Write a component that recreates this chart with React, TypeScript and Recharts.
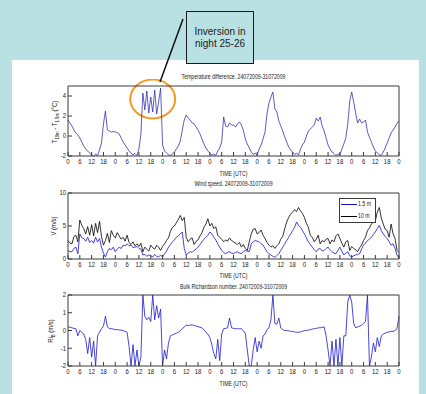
import React from 'react';
import { LineChart, Line, XAxis, YAxis, ReferenceArea } from 'recharts';

// hour ticks, every 6 h over the week
const xTicks = [
  0, 6, 12, 18, 24, 30, 36, 42, 48, 54, 60, 66, 72, 78, 84, 90, 96, 102, 108, 114, 120, 126, 132, 138,
  144, 150, 156, 162, 168,
];
const tempTicks = [-2, 0, 2, 4];
const windTicks = [0, 5, 10];
const riTicks = [-2, -1, 0, 1, 2];

// T10m - T1.5m (degC), one value per hour
const tempDiff = [
  1.6, 1.3, 1.0, 0.6, 0.3, 0.1, -0.2, -0.6, -1.0, -1.3, -1.5, -1.7, -1.9, -2.0, -1.8, -1.95, -1.4, -0.7, 1.2, 2.5, 0.6, 0.5, 0.4, 0.45,
  0.4, 0.35, 0.2, -0.2, -0.6, -0.9, -1.2, -1.5, -1.7, -1.9, -1.75, -1.95, -1.3, 0.2, 4.3, 2.6, 4.5, 2.3, 3.9, 2.4, 4.6, 2.2, 3.4, 4.8,
  -0.9, -1.5, -1.7, -1.85, -1.95, -1.8, -1.6, -1.3, -1.0, -0.5, 0.6, 1.6, 2.1, 1.8, 1.6, 1.3, 1.2, 0.9, 0.6, 0.2, -0.3, -0.8, -1.2, -1.5,
  -1.7, -1.9, -1.8, -1.95, -1.5, -1.2, -0.6, 1.9, 1.0, 0.9, 1.3, 1.1, 1.1, 0.9, 1.2, 1.4, 1.1, 0.6, -0.3, -0.8, -1.2, -1.6, -1.85, -1.7,
  -1.9, -1.3, -0.9, -0.3, 0.4, 2.2, 3.3, 3.9, 4.4, 2.7, 2.4, 1.5, 1.0, 0.5, -0.1, -0.6, -1.1, -1.4, -1.6, -1.85, -1.7, -1.9, -1.3, -0.9,
  -0.6, 0.0, 0.5, 0.7, 0.9, 1.1, 1.8, 1.5, 1.9, 1.0, 0.5, -0.2, -0.9, -1.3, -1.6, -1.75, -1.95, -1.8, -1.9, -1.3, -0.8, -0.2, 1.2, 3.5,
  4.4, 3.4, 2.3, 1.3, 1.7, 1.3, 1.4, 1.6, 0.4, -0.1, -0.6, -1.1, -1.5, -1.7, -1.85, -1.95, -1.6, -1.2, -0.7, -0.2, 0.3, 0.6, 0.9, 1.3,
  1.5,
];

// wind speed at 10 m (m/s)
const wind10 = [
  2.8, 2.4, 2.3, 3.4, 3.6, 2.6, 5.9, 5.1, 4.6, 3.8, 4.9, 3.6, 5.2, 3.5, 5.4, 4.0, 5.7, 3.4, 2.1, 2.8, 3.9, 2.5, 4.3, 3.6,
  3.2, 4.0, 3.5, 3.0, 3.3, 2.7, 3.6, 2.5, 2.2, 2.6, 2.0, 2.3, 1.9, 2.4, 1.1, 1.8, 1.5, 1.2, 2.1, 1.7, 1.5, 2.1, 1.8, 1.3,
  1.9, 2.3, 2.8, 3.2, 4.2, 4.8, 5.0, 5.5, 6.0, 6.6, 5.8, 6.3, 3.3, 2.6, 3.0, 3.2, 2.2, 2.7, 2.9, 3.5, 4.0, 4.8, 5.3, 6.1,
  5.0, 5.4, 4.6, 4.9, 3.6, 3.3, 3.0, 2.6, 2.9, 2.7, 3.2, 2.8, 2.6, 2.4, 2.2, 2.5, 1.8, 2.2, 1.6, 1.3, 2.6, 3.8, 4.5, 4.6,
  3.8, 4.0, 4.4, 3.6, 3.1, 2.5, 2.1, 1.8, 2.0, 1.6, 2.0, 2.3, 3.0, 3.4, 4.6, 5.6, 6.3, 6.8, 7.1, 7.5, 7.2, 7.8, 7.3, 6.9,
  6.3, 5.4, 4.8, 3.6, 3.3, 2.6, 3.0, 3.6, 2.3, 2.8, 2.6, 3.0, 3.1, 2.3, 2.9, 2.6, 3.5, 3.8, 3.1, 2.4, 1.8, 2.6, 2.8, 1.3,
  1.9, 1.6, 1.4, 1.1, 1.7, 2.1, 2.8, 3.3, 4.3, 4.7, 5.3, 5.6, 5.8, 7.1, 7.8, 6.2, 5.3, 4.5, 4.3, 3.3, 5.3, 3.8, 3.1, 1.3,
  1.0,
];

// wind speed at 1.5 m (m/s)
const wind15 = [
  1.3, 1.1, 1.1, 1.6, 1.8, 0.8, 3.8, 3.2, 3.1, 2.7, 3.3, 2.5, 2.8, 2.4, 3.3, 2.6, 3.1, 1.8, 0.9, 0.3, 1.1, 1.6, 1.4, 1.8,
  1.1, 1.5, 1.8, 1.6, 2.1, 2.0, 2.3, 2.0, 2.1, 1.7, 1.8, 1.9, 1.6, 1.5, 0.6, 0.7, 0.4, 0.6, 0.5, 0.3, 0.7, 0.4, 0.3, 0.6,
  0.3, 0.8, 1.2, 1.8, 2.2, 2.6, 2.9, 3.3, 3.5, 3.8, 4.1, 1.6, 0.6, 0.9, 1.1, 1.0, 1.3, 1.5, 1.8, 2.2, 2.6, 3.0, 3.3, 3.6,
  4.1, 3.8, 3.3, 2.9, 2.3, 1.8, 1.3, 1.0, 0.8, 1.0, 1.1, 0.9, 0.8, 1.0, 1.1, 0.9, 0.8, 1.1, 1.3, 1.2, 1.1, 2.3, 2.6, 2.8,
  2.7, 2.6, 2.3, 2.1, 1.6, 1.1, 0.8, 0.6, 0.4, 0.25, 0.5, 0.8, 1.3, 1.8, 2.3, 2.8, 3.3, 3.8, 4.3, 4.8, 5.6, 5.1, 4.8, 4.3,
  3.8, 3.2, 2.6, 2.2, 1.8, 1.4, 1.1, 1.5, 1.6, 1.2, 1.3, 1.6, 1.8, 1.4, 1.1, 0.9, 0.8, 1.3, 1.8, 1.2, 0.6, 0.9, 1.1, 0.5,
  0.3, 0.5, 0.6, 0.7, 0.8, 1.5, 2.1, 2.4, 2.8, 3.0, 3.3, 3.7, 4.1, 4.6, 5.1, 4.3, 3.8, 3.4, 3.1, 2.6, 2.1, 2.3, 1.6, 0.6,
  0.1,
];

// bulk Richardson number
const richardson = [
  0.2, 0.18, 0.15, 0.12, 0.1, -0.3, 0.0, -0.1, -0.2, -0.5, -1.3, -0.4, -1.5, -0.6, -2.0, -0.3, -0.1, 0.1, 0.25, 0.8, 0.2, 0.12, 0.1, 0.08,
  0.05, 0.05, 0.03, 0.02, 0.0, -0.05, -0.1, -0.9, -2.0, -0.8, -2.0, -1.1, -2.0, -1.5, 2.0, 0.8, 0.6, 0.75, 0.5, 2.0, 0.6, 1.4, 0.7, 1.2,
  -2.0, -1.1, -1.6, -0.7, -0.3, -0.25, -0.2, -0.15, -0.1, 0.0, 0.1, 0.2, 0.3, 0.28, 0.3, 0.32, 0.28, 0.25, 0.22, 0.18, 0.15, 0.05, -0.1, -0.2,
  -0.4, -0.8, -1.3, -1.6, -0.5, -1.7, -0.2, 0.1, 0.12, 0.15, 0.7, 0.15, 0.12, 0.1, 0.1, 0.1, 0.1, 0.0, -0.15, -1.1, -2.0, -2.0, -1.1, -0.4,
  -1.2, -0.6, -1.0, -0.3, -0.2, 0.05, 0.15, 0.6, 2.0, 0.4, 0.35, 0.7, 0.15, 0.05, 0.0, 0.0, -0.02, -0.05, -0.05, -0.08, -0.1, -0.1, -0.08, -0.05,
  0.0, 0.0, 0.03, 0.05, 0.08, 0.1, 0.12, 0.15, 0.15, 0.18, 0.2, -0.3, -1.1, -2.0, -0.6, -2.0, -0.5, -2.0, -0.4, -2.0, -0.3, -0.3, 1.6, 2.0,
  1.6, 0.4, 0.15, 0.2, 0.25, 0.3, 0.4, 0.5, 2.0, -2.0, -1.5, -0.7, -1.2, -0.4, -0.9, -0.3, -0.2, -0.15, -0.1, -0.08, -0.05, -0.05, 0.0, 0.1,
  0.8,
];

// highlighted inversion night (hours, degC)
const inversionSpan = { h1: 31.6, h2: 54.4, v1: 1.75, v2: 5.65 };

const tempData = tempDiff.map((v, i) => ({ h: i, v }));
const windData = wind10.map((v, i) => ({ h: i, w10: v, w15: wind15[i] }));
const riData = richardson.map((v, i) => ({ h: i, v }));

const FONT = '"Liberation Sans", Arial, sans-serif';
const AXIS = '#3a3a3a';
const BG = '#b9e0e2';
const SQUEEZE = 0.74;

const fmtHour = (h: number) => String(h % 24);

// narrow MATLAB-like tick text
function XTick({ x, y, payload }: any) {
  return (
    <g transform={`translate(${x},${y}) scale(0.85,1)`}>
      <text textAnchor="middle" dy="0.71em" fontSize={7} fill="#222" fontFamily={FONT}>
        {fmtHour(payload.value)}
      </text>
    </g>
  );
}

function YTick({ x, y, payload }: any) {
  return (
    <g transform={`translate(${x},${y}) scale(0.85,1)`}>
      <text textAnchor="end" dy="0.355em" fontSize={7} fill="#222" fontFamily={FONT}>
        {payload.value}
      </text>
    </g>
  );
}

function axes(yDomain: number[], yTicks: number[]) {
  return [
    <XAxis
      key="xb"
      xAxisId="b"
      type="number"
      dataKey="h"
      domain={[0, 168]}
      ticks={xTicks}
      interval={0}
      tickSize={-4}
      tickMargin={7}
      height={20}
      stroke={AXIS}
      tick={<XTick />}
    />,
    <XAxis
      key="xt"
      xAxisId="t"
      orientation="top"
      type="number"
      dataKey="h"
      domain={[0, 168]}
      ticks={xTicks}
      interval={0}
      tick={false}
      tickSize={-4}
      height={1}
      stroke={AXIS}
    />,
    <YAxis
      key="yl"
      yAxisId="l"
      type="number"
      domain={yDomain}
      ticks={yTicks}
      interval={0}
      allowDataOverflow
      tickSize={-4}
      tickMargin={6}
      width={20}
      stroke={AXIS}
      tick={<YTick />}
    />,
    <YAxis
      key="yr"
      yAxisId="r"
      orientation="right"
      type="number"
      domain={yDomain}
      ticks={yTicks}
      interval={0}
      allowDataOverflow
      tick={false}
      tickSize={-4}
      width={1}
      stroke={AXIS}
    />,
  ];
}

const margin = { top: 6, right: 26, bottom: 4, left: 48 };

function Text({ x, y, w, children, size = 7 }: any) {
  return (
    <div
      style={{
        position: 'absolute',
        left: x,
        top: y,
        width: w,
        textAlign: 'center',
        fontFamily: FONT,
        fontSize: size,
        color: '#222',
        lineHeight: 1,
        whiteSpace: 'nowrap',
        transform: `scaleX(${SQUEEZE})`,
      }}
    >
      {children}
    </div>
  );
}

function VText({ cx, cy, children }: any) {
  return (
    <div
      style={{
        position: 'absolute',
        left: cx - 40,
        top: cy - 5,
        width: 80,
        height: 10,
        textAlign: 'center',
        fontFamily: FONT,
        fontSize: 7,
        lineHeight: '10px',
        color: '#222',
        transform: `rotate(-90deg) scaleX(0.85)`,
        whiteSpace: 'nowrap',
      }}
    >
      {children}
    </div>
  );
}

export default function App() {
  return (
    <div style={{ position: 'absolute', left: 0, top: 0, width: 426, height: 394, background: BG, overflow: 'hidden' }}>
      <div style={{ position: 'absolute', left: 12, top: 60, width: 407, height: 334, background: '#fff' }} />

      {/* temperature difference */}
      <Text x={68} y={73} w={331}>Temperature difference. 24072009-31072009</Text>
      <div style={{ position: 'absolute', left: 0, top: 79 }}>
        <LineChart width={426} height={101} data={tempData} margin={margin}>
          {axes([-2, 5], tempTicks)}
          <Line
            xAxisId="b"
            yAxisId="l"
            dataKey="v"
            stroke="#3434b4"
            strokeWidth={0.8}
            dot={false}
            isAnimationActive={false}
          />
          <ReferenceArea
            xAxisId="b"
            yAxisId="l"
            x1={inversionSpan.h1}
            x2={inversionSpan.h2}
            y1={inversionSpan.v1}
            y2={inversionSpan.v2}
            ifOverflow="visible"
            shape={(p: any) => (
              <ellipse
                cx={p.x + p.width / 2}
                cy={p.y + p.height / 2}
                rx={Math.abs(p.width / 2)}
                ry={Math.abs(p.height / 2)}
                fill="none"
                stroke="#f39a1e"
                strokeWidth={2}
              />
            )}
          />
        </LineChart>
      </div>
      <VText cx={55} cy={122}>
        T<sub style={{ fontSize: 5 }}>10m</sub> - T<sub style={{ fontSize: 5 }}>1.5m</sub> (°C)
      </VText>
      <Text x={68} y={170} w={331}>TIME (UTC)</Text>

      {/* wind speed */}
      <Text x={68} y={180} w={331}>Wind speed. 24072009-31072009</Text>
      <div style={{ position: 'absolute', left: 0, top: 186 }}>
        <LineChart width={426} height={97} data={windData} margin={margin}>
          {axes([0, 10], windTicks)}
          <Line xAxisId="b" yAxisId="l" dataKey="w10" stroke="#000" strokeWidth={0.8} dot={false} isAnimationActive={false} />
          <Line xAxisId="b" yAxisId="l" dataKey="w15" stroke="#1414d0" strokeWidth={0.8} dot={false} isAnimationActive={false} />
        </LineChart>
      </div>
      <VText cx={54} cy={226}>V (m/s)</VText>
      <Text x={68} y={272} w={331}>TIME (UTC)</Text>
      <div
        style={{
          position: 'absolute',
          left: 339,
          top: 198,
          width: 35,
          height: 23,
          border: `1px solid ${AXIS}`,
          background: '#fff',
          fontFamily: FONT,
          fontSize: 6.5,
          color: '#222',
          whiteSpace: 'nowrap',
        }}
      >
        <div style={{ position: 'absolute', left: 1, top: 5, width: 16, height: 1, background: '#1414d0' }} />
        <div style={{ position: 'absolute', left: 18, top: 2, lineHeight: 1, transform: 'scaleX(0.8)', transformOrigin: 'left' }}>1.5 m</div>
        <div style={{ position: 'absolute', left: 1, top: 17, width: 16, height: 1, background: '#000' }} />
        <div style={{ position: 'absolute', left: 18, top: 14, lineHeight: 1, transform: 'scaleX(0.8)', transformOrigin: 'left' }}>10 m</div>
      </div>

      {/* bulk Richardson number */}
      <Text x={68} y={283} w={331}>Bulk Richardson number. 24072009-31072009</Text>
      <div style={{ position: 'absolute', left: 0, top: 288 }}>
        <LineChart width={426} height={102} data={riData} margin={margin}>
          {axes([-2, 2], riTicks)}
          <Line
            xAxisId="b"
            yAxisId="l"
            dataKey="v"
            stroke="#1a1acc"
            strokeWidth={0.8}
            dot={false}
            isAnimationActive={false}
          />
        </LineChart>
      </div>
      <VText cx={51} cy={331}>
        Ri<sub style={{ fontSize: 5 }}>B</sub> (m/s)
      </VText>
      <Text x={68} y={380} w={331}>TIME (UTC)</Text>

      {/* callout */}
      <svg style={{ position: 'absolute', left: 0, top: 0 }} width={426} height={394}>
        <line x1={183} y1={19} x2={160} y2={82} stroke="#111" strokeWidth={1.5} />
      </svg>
      <div
        style={{
          position: 'absolute',
          left: 186,
          top: 11,
          width: 66,
          height: 37,
          paddingTop: 14,
          border: '1.5px solid #1a1a1a',
          background: BG,
          fontFamily: 'Arial, "Liberation Sans", sans-serif',
          fontSize: 10,
          color: '#222',
          textAlign: 'center',
          lineHeight: '12px',
        }}
      >
        Inversion in
        <br />
        night 25-26
      </div>
    </div>
  );
}
